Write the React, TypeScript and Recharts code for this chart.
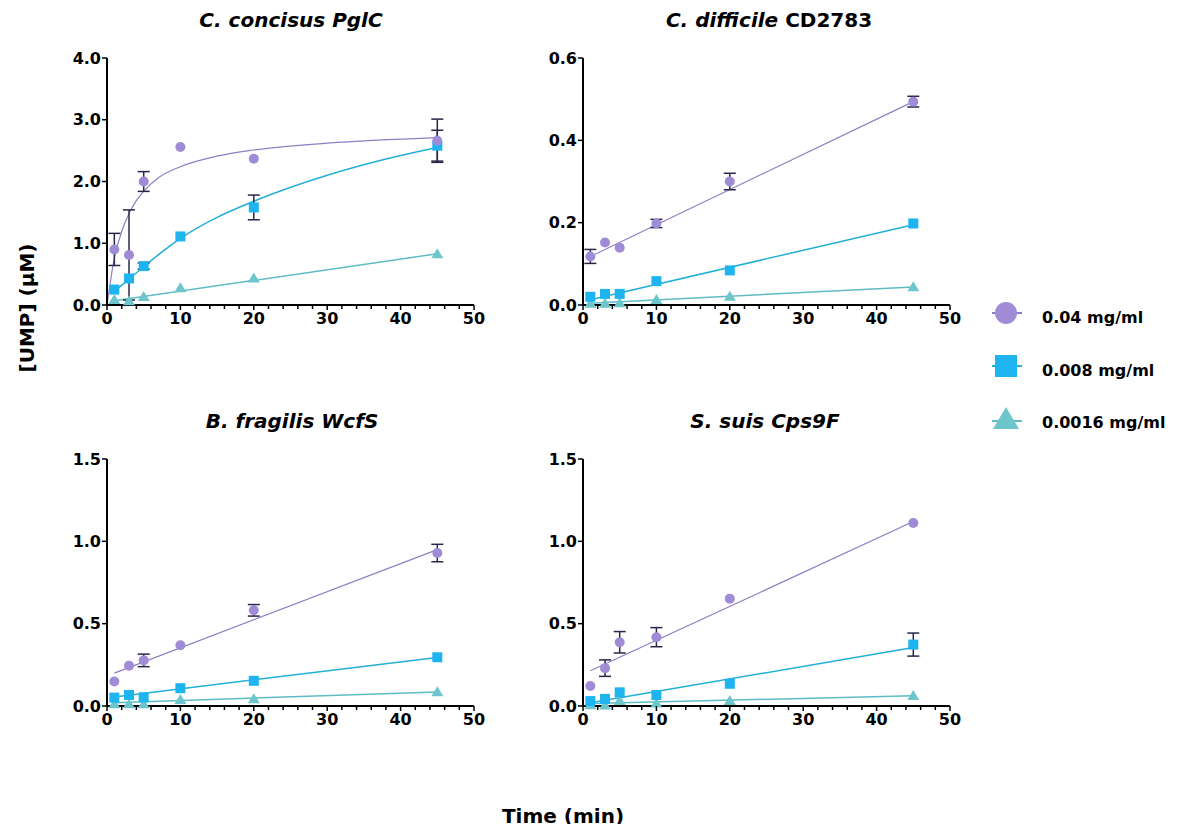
// @ts-nocheck
import React from 'react'
import { ComposedChart, Line, Scatter, XAxis, YAxis, ErrorBar } from 'recharts'

// sampling times (min)
const time = [1, 3, 5, 10, 20, 45]
const xTicks = [0, 2, 4, 6, 8, 10, 12, 14, 16, 18, 20, 22, 24, 26, 28, 30, 32, 34, 36, 38, 40, 42, 44, 46, 48, 50]
const legendLabels = ['0.04 mg/ml', '0.008 mg/ml', '0.0016 mg/ml']

// C. concisus PglC
const pglcHigh = [0.9, 0.81, 2.0, 2.56, 2.37, 2.66]
const pglcHighErr = [0.26, 0.73, 0.16, 0, 0, 0.35]
const pglcMid = [0.25, 0.43, 0.63, 1.11, 1.58, 2.58]
const pglcMidErr = [0, 0, 0.05, 0, 0.2, 0.25]
const pglcLow = [0.08, 0.06, 0.13, 0.27, 0.43, 0.82]
const pglcFitHighX = [0, 1, 2, 3, 4, 5, 7, 10, 15, 20, 30, 45]
const pglcFitHighY = [0, 0.76, 1.19, 1.48, 1.69, 1.84, 2.06, 2.24, 2.41, 2.51, 2.62, 2.71]
const pglcFitMidX = [1, 3, 5, 7.5, 10, 15, 20, 30, 40, 45]
const pglcFitMidY = [0.22, 0.42, 0.62, 0.86, 1.08, 1.42, 1.68, 2.1, 2.42, 2.55]
const pglcFitLowY = [0.07, 0.83]

// C. difficile CD2783
const cdHigh = [0.118, 0.152, 0.139, 0.198, 0.3, 0.494]
const cdHighErr = [0.017, 0, 0, 0.01, 0.02, 0.013]
const cdMid = [0.02, 0.027, 0.027, 0.058, 0.084, 0.198]
const cdLow = [0.003, 0.003, 0.004, 0.012, 0.02, 0.043]
const cdFitHighY = [0.118, 0.494]
const cdFitMidY = [0.013, 0.195]
const cdFitLowY = [0.004, 0.044]

// B. fragilis WcfS
const wcfsHigh = [0.149, 0.245, 0.277, 0.369, 0.581, 0.929]
const wcfsHighErr = [0, 0, 0.038, 0, 0.035, 0.053]
const wcfsMid = [0.051, 0.067, 0.053, 0.108, 0.153, 0.296]
const wcfsLow = [0.01, 0.01, 0.01, 0.037, 0.041, 0.084]
const wcfsFitHighY = [0.2, 0.95]
const wcfsFitMidY = [0.055, 0.295]
const wcfsFitLowY = [0.02, 0.085]

// S. suis Cps9F
const cpsHigh = [0.122, 0.23, 0.387, 0.418, 0.652, 1.111]
const cpsHighErr = [0, 0.05, 0.065, 0.058, 0, 0]
const cpsMid = [0.03, 0.043, 0.083, 0.067, 0.135, 0.373]
const cpsMidErr = [0, 0, 0, 0, 0, 0.07]
const cpsLow = [0.005, 0.003, 0.03, 0.015, 0.03, 0.061]
const cpsFitHighY = [0.214, 1.12]
const cpsFitMidY = [0.02, 0.355]
const cpsFitLowY = [0.015, 0.062]

const lineEnds = [1, 45]

const C_HIGH = '#a08bd6'
const C_MID = '#1db4f0'
const C_LOW = '#6cc6cb'
const L_HIGH = '#8f7ec4'
const L_MID = '#22b0d6'
const L_LOW = '#5fbcc4'
const ERR = '#2a2648'
const FONT = "'DejaVu Sans', sans-serif"

const pts = (ys, errs) => time.map((x, i) => ({ x, y: ys[i], err: errs ? errs[i] : 0 }))
const fit = (xs, ys) => xs.map((x, i) => ({ x, y: ys[i] }))

const Circ = ({ cx, cy }) => <circle cx={cx} cy={cy} r={5} fill={C_HIGH} />
const Sq = ({ cx, cy }) => <rect x={cx - 5} y={cy - 5} width={10} height={10} fill={C_MID} />
const Tri = ({ cx, cy }) => <polygon points={`${cx},${cy - 6} ${cx + 6},${cy + 4} ${cx - 6},${cy + 4}`} fill={C_LOW} />

const XTick = ({ x, y, payload }) => {
  const v = payload.value
  const major = v % 10 === 0
  return (
    <g>
      <line x1={x} x2={x} y1={y} y2={y + (major ? 5 : 4)} stroke="#000" strokeWidth={1.5} />
      {major && (
        <text x={x} y={y + 7} dy="0.72em" textAnchor="middle" fill="#000" fontSize={16} fontWeight="bold" fontFamily={FONT}>
          {v}
        </text>
      )}
    </g>
  )
}

function Panel({ left, top, yMax, yTicks, high, mid, low, fitHigh, fitMid, fitLow, curved }) {
  return (
    <div style={{ position: 'absolute', left, top }}>
      <ComposedChart width={437} height={287} margin={{ top: 10, right: 20, left: 0, bottom: 0 }}>
        <XAxis
          type="number"
          dataKey="x"
          domain={[0, 50]}
          ticks={xTicks}
          interval={0}
          tickSize={0}
          tickMargin={0}
          tickLine={false}
          tick={<XTick />}
          height={30}
          axisLine={{ stroke: '#000', strokeWidth: 2 }}
        />
        <YAxis
          type="number"
          dataKey="y"
          domain={[0, yMax]}
          ticks={yTicks}
          interval={0}
          width={50}
          tickFormatter={(v) => v.toFixed(1)}
          tick={{ fill: '#000', fontSize: 16, fontWeight: 'bold', fontFamily: FONT }}
          tickLine={{ stroke: '#000', strokeWidth: 1.5 }}
          tickSize={5}
          tickMargin={1}
          axisLine={{ stroke: '#000', strokeWidth: 2 }}
        />
        <Line data={fitLow} dataKey="y" type="linear" stroke={L_LOW} strokeWidth={1.5} dot={false} isAnimationActive={false} />
        <Line data={fitMid} dataKey="y" type={curved ? 'monotone' : 'linear'} stroke={L_MID} strokeWidth={1.5} dot={false} isAnimationActive={false} />
        <Line data={fitHigh} dataKey="y" type={curved ? 'monotone' : 'linear'} stroke={L_HIGH} strokeWidth={1.2} dot={false} isAnimationActive={false} />
        <Scatter data={low} shape={Tri} isAnimationActive={false} />
        <Scatter data={mid} shape={Sq} isAnimationActive={false}>
          <ErrorBar dataKey="err" direction="y" width={6} stroke={ERR} strokeWidth={1.5} />
        </Scatter>
        <Scatter data={high} shape={Circ} isAnimationActive={false}>
          <ErrorBar dataKey="err" direction="y" width={6} stroke={ERR} strokeWidth={1.5} />
        </Scatter>
      </ComposedChart>
    </div>
  )
}

const titleStyle = { fontFamily: FONT, fontSize: 20, fontWeight: 'bold', fill: '#000' }

export default function App() {
  return (
    <div style={{ position: 'relative', width: 1166, height: 816, background: '#fff' }}>
      <Panel
        left={49}
        top={40}
        yMax={4}
        yTicks={[0, 1, 2, 3, 4]}
        high={pts(pglcHigh, pglcHighErr)}
        mid={pts(pglcMid, pglcMidErr)}
        low={pts(pglcLow)}
        fitHigh={fit(pglcFitHighX, pglcFitHighY)}
        fitMid={fit(pglcFitMidX, pglcFitMidY)}
        fitLow={fit(lineEnds, pglcFitLowY)}
        curved
      />
      <Panel
        left={525}
        top={40}
        yMax={0.6}
        yTicks={[0, 0.2, 0.4, 0.6]}
        high={pts(cdHigh, cdHighErr)}
        mid={pts(cdMid)}
        low={pts(cdLow)}
        fitHigh={fit(lineEnds, cdFitHighY)}
        fitMid={fit(lineEnds, cdFitMidY)}
        fitLow={fit(lineEnds, cdFitLowY)}
      />
      <Panel
        left={49}
        top={441}
        yMax={1.5}
        yTicks={[0, 0.5, 1, 1.5]}
        high={pts(wcfsHigh, wcfsHighErr)}
        mid={pts(wcfsMid)}
        low={pts(wcfsLow)}
        fitHigh={fit(lineEnds, wcfsFitHighY)}
        fitMid={fit(lineEnds, wcfsFitMidY)}
        fitLow={fit(lineEnds, wcfsFitLowY)}
      />
      <Panel
        left={525}
        top={441}
        yMax={1.5}
        yTicks={[0, 0.5, 1, 1.5]}
        high={pts(cpsHigh, cpsHighErr)}
        mid={pts(cpsMid, cpsMidErr)}
        low={pts(cpsLow)}
        fitHigh={fit(lineEnds, cpsFitHighY)}
        fitMid={fit(lineEnds, cpsFitMidY)}
        fitLow={fit(lineEnds, cpsFitLowY)}
      />

      <svg width={1166} height={816} style={{ position: 'absolute', left: 0, top: 0, overflow: 'visible', pointerEvents: 'none' }}>
        <text x={283} y={19} textAnchor="middle" {...titleStyle} fontStyle="italic">C. concisus PglC</text>
        <text x={761} y={19} textAnchor="middle" {...titleStyle}>
          <tspan fontStyle="italic">C. difficile</tspan>
          <tspan> CD2783</tspan>
        </text>
        <text x={284} y={420} textAnchor="middle" {...titleStyle} fontStyle="italic">B. fragilis WcfS</text>
        <text x={757} y={420} textAnchor="middle" {...titleStyle} fontStyle="italic">S. suis Cps9F</text>

        <text x={555} y={815} textAnchor="middle" {...titleStyle}>Time (min)</text>
        <text x={26} y={300} textAnchor="middle" transform="rotate(-90, 26, 300)" {...titleStyle}>[UMP] (µM)</text>

        <line x1={984} x2={1014} y1={305} y2={305} stroke={L_HIGH} strokeWidth={2} />
        <circle cx={998} cy={305} r={11} fill={C_HIGH} />
        <text x={1034} y={315} fontFamily={FONT} fontSize={16} fontWeight="bold" fill="#000">{legendLabels[0]}</text>

        <line x1={984} x2={1014} y1={358} y2={358} stroke={L_MID} strokeWidth={2} />
        <rect x={987} y={347} width={22} height={22} fill={C_MID} />
        <text x={1034} y={368} fontFamily={FONT} fontSize={16} fontWeight="bold" fill="#000">{legendLabels[1]}</text>

        <line x1={984} x2={1014} y1={413} y2={413} stroke={L_LOW} strokeWidth={2} />
        <polygon points="998,399 1011,421 985,421" fill={C_LOW} />
        <text x={1034} y={420} fontFamily={FONT} fontSize={16} fontWeight="bold" fill="#000">{legendLabels[2]}</text>
      </svg>
    </div>
  )
}
